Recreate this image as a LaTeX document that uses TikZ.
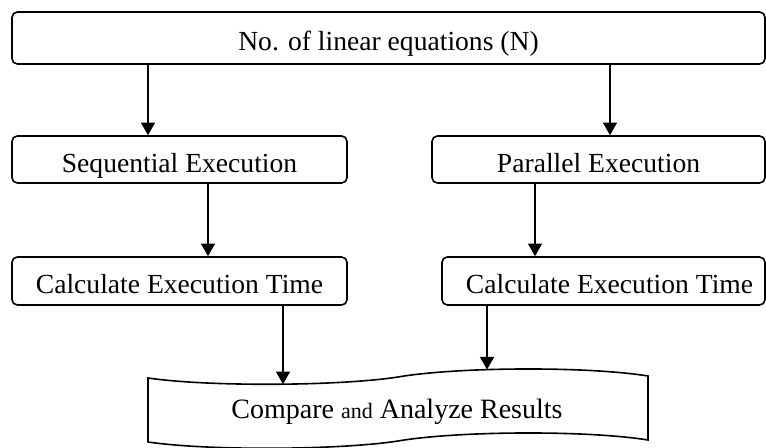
\documentclass[tikz,border=0pt]{standalone}
\usepackage{fontspec}
\setmainfont{Liberation Serif}
\usetikzlibrary{arrows.meta}

\tikzset{every picture/.style={line width=0.75pt}}
\tikzset{
  stepbox/.style={draw, rounded corners=4pt, line width=1.2pt, inner sep=0pt,
    font=\fontsize{20.7}{24}\selectfont, text height=21pt, text depth=2.1pt},
  restext/.style={inner sep=0pt, font=\fontsize{21}{25}\selectfont},
  arr/.style={-{Triangle[length=9.5pt,width=10.5pt]}, line width=1.2pt}
}

\begin{document}
\begin{tikzpicture}[x=0.75pt,y=0.75pt,yscale=-1,xscale=1]
\useasboundingbox (0,0) rectangle (766,448);

%Rounded Rect: input
\node [stepbox, minimum width=564.75pt, minimum height=39pt] (inp) at (388.5,38) {No. of linear equations (N)};
%Rounded Rect: sequential
\node [stepbox, minimum width=251.25pt, minimum height=35.25pt] (seq) at (179.5,159.5) {Sequential Execution};
%Rounded Rect: parallel
\node [stepbox, minimum width=249.75pt, minimum height=35.25pt] (par) at (598.5,159.5) {Parallel Execution};
%Rounded Rect: time (sequential)
\node [stepbox, minimum width=251.25pt, minimum height=36pt] (tseq) at (179.5,281) {Calculate Execution Time};
%Rounded Rect: time (parallel)
\node [stepbox, minimum width=242.25pt, minimum height=36pt] (tpar) at (603.5,281) {\hspace*{9pt}Calculate Execution Time};

%Shape: Tape
\draw [line width=1.2pt] (148,378) .. controls (210,387) and (340,386) .. (398,377) .. controls (456,367) and (586,366) .. (648,376) -- (648,440) .. controls (586,430) and (456,431) .. (398,441) .. controls (340,450) and (210,451) .. (148,442) -- cycle ;
\coordinate (inL) at (283,384.2);
\coordinate (inR) at (487,369.6);
% Text Node
\node [restext] (res) at (397,411.5) {Compare {\fontsize{16.5}{20}\selectfont and} Analyze Results};

%Straight Lines
\draw [arr] ([xshift=-23.625pt]seq.north |- inp.south) -- ([xshift=-23.625pt]seq.north);
\draw [arr] ([xshift=8.625pt]par.north |- inp.south) -- ([xshift=8.625pt]par.north);
\draw [arr] ([xshift=21.375pt]seq.south) -- ([xshift=21.375pt]tseq.north);
\draw [arr] ([xshift=-47.625pt]par.south) -- ([xshift=-47.625pt]par.south |- tpar.north);
\draw [arr] (tseq.south -| inL) -- (inL);
\draw [arr] (tpar.south -| inR) -- (inR);

\end{tikzpicture}
\end{document}
